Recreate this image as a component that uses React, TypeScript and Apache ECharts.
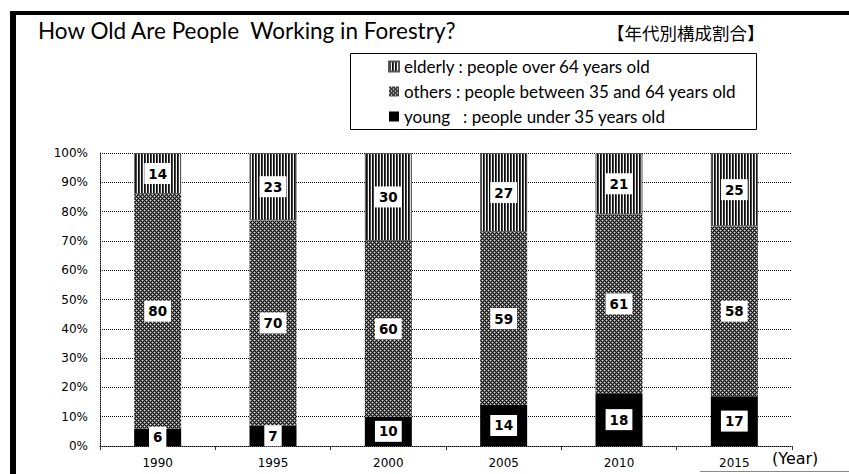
import React, { useEffect, useRef } from "react";
import * as echarts from "echarts";

const years = ["1990", "1995", "2000", "2005", "2010", "2015"];
const youngValues = [6, 7, 10, 14, 18, 17];
const othersValues = [80, 70, 60, 59, 61, 58];
const elderlyValues = [14, 23, 30, 27, 21, 25];

const seriesNames = ["elderly", "others", "young"];
const legendTexts: Record<string, string> = {
  elderly: "elderly : people over 64 years old",
  others: "others : people between 35 and 64 years old",
  young: "young   : people under 35 years old",
};

function makePattern(w: number, h: number, draw: (ctx: CanvasRenderingContext2D) => void) {
  const c = document.createElement("canvas");
  c.width = w;
  c.height = h;
  const ctx = c.getContext("2d")!;
  draw(ctx);
  return { image: c.toDataURL(), repeat: "repeat", imageWidth: w, imageHeight: h } as any;
}

export default function App() {
  const ref = useRef<HTMLDivElement>(null);
  useEffect(() => {
    if (!ref.current) return;
    const chart = echarts.init(ref.current, undefined, { renderer: "svg" });

    const stripe = makePattern(3, 4, (ctx) => {
      ctx.fillStyle = "#f4f4f4";
      ctx.fillRect(0, 0, 3, 4);
      ctx.fillStyle = "#0a0a0a";
      ctx.fillRect(0, 0, 1, 4);
      ctx.fillStyle = "#444444";
      ctx.fillRect(1, 0, 1, 4);
    });
    const hatch = makePattern(4, 4, (ctx) => {
      ctx.fillStyle = "#6e6e6e";
      ctx.fillRect(0, 0, 4, 4);
      ctx.fillStyle = "#111111";
      for (let x = 0; x < 4; x++) {
        for (let y = 0; y < 4; y++) {
          if ((x + y) % 4 === 0 || (x - y + 8) % 4 === 0) ctx.fillRect(x, y, 1, 1);
        }
      }
      ctx.fillStyle = "#dcdcdc";
      ctx.fillRect(2, 0, 1, 1);
      ctx.fillRect(0, 2, 1, 1);
    });

    const label = {
      show: true,
      position: "inside",
      formatter: "{c}",
      backgroundColor: "#ffffff",
      padding: [4, 4, 3, 4],
      color: "#000",
      fontSize: 13.5,
      fontWeight: "bold",
      fontFamily: "DejaVu Sans",
    };

    const fontBase = "Lato";

    chart.setOption({
      animation: false,
      backgroundColor: "#ffffff",
      grid: { left: 100, right: 57, top: 153, bottom: 28, containLabel: false },
      legend: {
        data: seriesNames,
        orient: "vertical",
        left: 388,
        top: 57,
        padding: 0,
        itemWidth: 10,
        itemHeight: 10,
        itemGap: 6,
        icon: "rect",
        formatter: (n: string) => legendTexts[n],
        textStyle: { fontFamily: fontBase, fontSize: 17, color: "#000", lineHeight: 19, padding: [0, 0, 0, 0] },
        selectedMode: false,
      },
      xAxis: {
        type: "category",
        data: years,
        axisLine: { show: true, lineStyle: { color: "#000", type: "dotted", width: 1 } },
        axisTick: { show: true, length: 4, lineStyle: { color: "#333" } },
        axisLabel: { fontFamily: "DejaVu Sans", fontSize: 12, color: "#000", margin: 11 },
      },
      yAxis: {
        type: "value",
        min: 0,
        max: 100,
        interval: 10,
        axisLine: { show: true, lineStyle: { color: "#000", type: "dotted", width: 1 } },
        axisTick: { show: false },
        axisLabel: { fontFamily: "DejaVu Sans", fontSize: 12, color: "#000", margin: 12, formatter: "{value}%" },
        splitLine: { show: true, lineStyle: { color: "#000", type: "dotted", width: 1 } },
      },
      series: [
        {
          name: "young",
          type: "bar",
          stack: "all",
          barWidth: 47,
          data: youngValues,
          itemStyle: { color: "#000000" },
          label,
        },
        {
          name: "others",
          type: "bar",
          stack: "all",
          barWidth: 47,
          data: othersValues,
          itemStyle: { color: hatch },
          label,
        },
        {
          name: "elderly",
          type: "bar",
          stack: "all",
          barWidth: 47,
          data: elderlyValues,
          itemStyle: { color: stripe, borderColor: "#555", borderWidth: 1 },
          label,
        },
      ],
      graphic: [
        { type: "rect", shape: { x: 10, y: 11, width: 839, height: 4 }, style: { fill: "#000" } },
        { type: "rect", shape: { x: 10, y: 11, width: 6, height: 463 }, style: { fill: "#000" } },
        { type: "line", shape: { x1: 700, y1: 471.5, x2: 849, y2: 471.5 }, style: { stroke: "#888", lineWidth: 1 } },
        {
          type: "rect",
          shape: { x: 350.5, y: 53.5, width: 406, height: 76 },
          style: { fill: "none", stroke: "#000", lineWidth: 1 },
        },
        {
          type: "text",
          x: 38,
          y: 30,
          style: {
            text: "How Old Are People  Working in Forestry?",
            fontFamily: fontBase,
            fontSize: 22.5,
            fill: "#000",
            verticalAlign: "middle",
          },
        },
        {
          type: "text",
          x: 607,
          y: 32,
          style: {
            text: "【年代別構成割合】",
            fontFamily: "Noto Sans CJK JP",
            fontSize: 17.5,
            fill: "#000",
            verticalAlign: "middle",
          },
        },
        {
          type: "text",
          x: 772,
          y: 458,
          style: {
            text: "(Year)",
            fontFamily: "DejaVu Sans",
            fontSize: 16,
            fill: "#000",
            verticalAlign: "middle",
          },
        },
      ],
    });
    return () => chart.dispose();
  }, []);
  return (
    <div
      ref={ref}
      style={{ position: "fixed", left: 0, top: 0, width: 849, height: 474, background: "#fff" }}
    />
  );
}
